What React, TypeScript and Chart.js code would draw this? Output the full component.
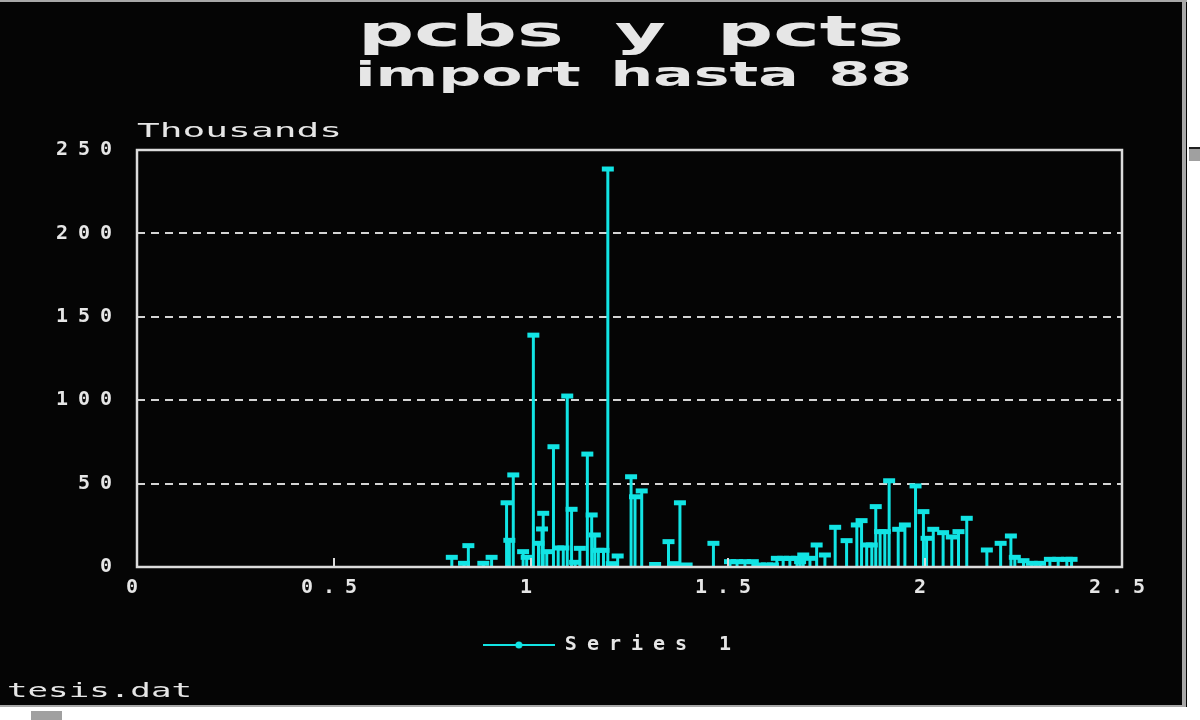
import React, { useEffect, useRef } from 'react';
import { Chart, registerables } from 'chart.js';

Chart.register(...registerables);

// ---- text ----
const chartTitle = 'pcbs y pcts';
const chartSubtitle = 'import hasta 88';
const unitLabel = 'Thousands';
const fileLabel = 'tesis.dat';
const seriesName = 'Series 1';

// ---- axes ----
const xTickValues = [0, 0.5, 1, 1.5, 2, 2.5];
const yTickValues = [0, 50, 100, 150, 200, 250];

// ---- data (values in thousands) ----
const sampleX = [
  0.799, 0.83, 0.841, 0.879, 0.9, 0.938, 0.945, 0.955, 0.98, 0.989,
  1.006, 1.019, 1.028, 1.031, 1.04, 1.057, 1.069, 1.082, 1.092, 1.103,
  1.112, 1.124, 1.143, 1.154, 1.162, 1.171, 1.184, 1.195, 1.205, 1.22,
  1.254, 1.264, 1.281, 1.315, 1.349, 1.361, 1.378, 1.395, 1.463, 1.505,
  1.523, 1.543, 1.563, 1.581, 1.599, 1.614, 1.624, 1.64, 1.657, 1.675,
  1.683, 1.691, 1.708, 1.725, 1.746, 1.772, 1.801, 1.827, 1.839, 1.852,
  1.865, 1.875, 1.886, 1.898, 1.909, 1.932, 1.949, 1.976, 1.996, 2.004,
  2.021, 2.046, 2.068, 2.085, 2.106, 2.157, 2.192, 2.218, 2.228, 2.25,
  2.271, 2.292, 2.317, 2.338, 2.36, 2.372,
];
const sampleValues = [
  5.8, 2.2, 12.8, 2.2, 5.8, 38.5, 16, 55.2, 9.2, 5.8,
  139, 14.2, 22.8, 32.2, 9.2, 72.1, 11.4, 11.4, 102.5, 34.6,
  2.8, 11.2, 67.7, 31.2, 19.2, 10, 10, 238.6, 2, 6.6,
  54.1, 42.1, 45.6, 1.5, 15.2, 2, 38.5, 1.2, 14.2, 3.2,
  3.2, 3.2, 3.2, 1.2, 1.2, 1.2, 5.2, 5.2, 5.2, 5.2,
  3.2, 7.2, 5.2, 13.2, 7.2, 23.8, 15.8, 25.2, 27.8, 13.2,
  13.2, 36.2, 21.2, 21.2, 51.7, 22.6, 25.2, 48.6, 33.2, 17.2,
  22.6, 20.6, 18, 21.2, 29.2, 10.2, 14.2, 18.6, 5.8, 3.8,
  2.2, 2.2, 4.6, 4.6, 4.6, 4.6,
];

const CYAN = '#12e4e4';
const FG = '#e6e6e6';
const MONO = '"DejaVu Sans Mono", monospace';
const SPACING = '10px';

function makeLegendMark(): HTMLCanvasElement {
  const c = document.createElement('canvas');
  c.width = 72;
  c.height = 10;
  const g = c.getContext('2d')!;
  g.strokeStyle = CYAN;
  g.lineWidth = 2;
  g.beginPath();
  g.moveTo(0, 5);
  g.lineTo(72, 5);
  g.stroke();
  g.fillStyle = CYAN;
  g.beginPath();
  g.arc(36, 5, 3.5, 0, Math.PI * 2);
  g.fill();
  return c;
}

function drawScaledText(
  ctx: CanvasRenderingContext2D,
  text: string,
  font: string,
  left: number,
  right: number,
  baseline: number,
  wordSpacing: string,
) {
  ctx.save();
  (ctx as any).letterSpacing = '0px';
  (ctx as any).wordSpacing = wordSpacing;
  ctx.font = font;
  ctx.fillStyle = FG;
  ctx.textAlign = 'left';
  ctx.textBaseline = 'alphabetic';
  const w = ctx.measureText(text).width;
  ctx.translate(left, baseline);
  ctx.scale((right - left) / w, 1);
  ctx.fillText(text, 0, 0);
  ctx.restore();
}

const retroPlugin = {
  id: 'retro',
  beforeUpdate(chart: any) {
    chart.ctx.letterSpacing = SPACING;
  },
  beforeDraw(chart: any) {
    const ctx = chart.ctx as CanvasRenderingContext2D;
    ctx.save();
    ctx.fillStyle = '#ffffff';
    ctx.fillRect(0, 0, 1200, 720);
    ctx.fillStyle = '#050505';
    ctx.fillRect(0, 0, 1187, 707);
    ctx.fillStyle = '#a8a8a8';
    ctx.fillRect(0, 0, 1187, 2);
    ctx.fillRect(1182, 0, 4, 706);
    ctx.fillRect(0, 705, 1186, 2);
    ctx.fillStyle = '#a0a0a0';
    ctx.fillRect(31, 711, 31, 9);
    ctx.fillRect(1189, 149, 11, 12);
    ctx.fillStyle = '#202020';
    ctx.fillRect(1189, 147, 11, 2);
    ctx.restore();
    (ctx as any).letterSpacing = SPACING;
  },
  afterDatasetsDraw(chart: any) {
    const ctx = chart.ctx as CanvasRenderingContext2D;
    const a = chart.chartArea;
    const xs = chart.scales.x;
    ctx.save();
    ctx.strokeStyle = '#dcdcdc';
    ctx.lineWidth = 2.5;
    ctx.setLineDash([]);
    ctx.strokeRect(a.left, a.top, a.right - a.left, a.bottom - a.top);
    ctx.lineWidth = 2;
    xTickValues.forEach((v) => {
      const px = xs.getPixelForValue(v);
      ctx.beginPath();
      ctx.moveTo(px, a.bottom);
      ctx.lineTo(px, a.bottom - 9);
      ctx.stroke();
    });
    ctx.restore();
  },
  afterDraw(chart: any) {
    const ctx = chart.ctx as CanvasRenderingContext2D;
    drawScaledText(ctx, chartTitle, 'bold 43px "DejaVu Sans"', 358, 904, 46, '13px');
    drawScaledText(ctx, chartSubtitle, 'bold 34px "DejaVu Sans"', 355, 912, 86, '5px');
    drawScaledText(ctx, unitLabel, `20px ${MONO}`, 137, 342, 137, '0px');
    drawScaledText(ctx, fileLabel, `20px ${MONO}`, 7, 192, 697, '0px');
  },
};

export default function App() {
  const canvasRef = useRef<HTMLCanvasElement | null>(null);

  useEffect(() => {
    const canvas = canvasRef.current;
    if (!canvas) return;
    const legendMark = makeLegendMark();

    const stemPoints: any[] = [];
    sampleX.forEach((x, i) => {
      stemPoints.push({ x, y: 0 });
      stemPoints.push({ x, y: sampleValues[i], cap: true });
      stemPoints.push({ x, y: null });
    });

    const tickFont = { family: MONO, size: 20, weight: 'bold' as const };

    const chart = new Chart(canvas, {
      type: 'scatter',
      data: {
        datasets: [
          {
            label: seriesName,
            data: stemPoints,
            showLine: true,
            spanGaps: false,
            borderColor: CYAN,
            backgroundColor: CYAN,
            borderWidth: 3,
            pointStyle: 'line',
            pointBorderColor: CYAN,
            pointBorderWidth: 5,
            pointRadius: (c: any) => (c.raw && c.raw.cap ? 6 : 0),
            pointHoverRadius: (c: any) => (c.raw && c.raw.cap ? 6 : 0),
          } as any,
        ],
      },
      options: {
        responsive: false,
        animation: false,
        events: [],
        layout: { padding: { top: 150, left: 24, right: 0, bottom: 55 } },
        plugins: {
          title: { display: false },
          tooltip: { enabled: false },
          legend: {
            display: true,
            position: 'bottom',
            labels: {
              usePointStyle: true,
              pointStyleWidth: 72,
              padding: 10,
              color: FG,
              font: tickFont,
              generateLabels: () => [
                {
                  text: seriesName,
                  pointStyle: legendMark as any,
                  fillStyle: CYAN,
                  strokeStyle: CYAN,
                  lineWidth: 0,
                  fontColor: FG,
                  hidden: false,
                  datasetIndex: 0,
                } as any,
              ],
            },
          },
        },
        scales: {
          x: {
            type: 'linear',
            min: 0,
            max: 2.5,
            afterBuildTicks: (s: any) => {
              s.ticks = xTickValues.map((v) => ({ value: v }));
            },
            afterFit: (s: any) => {
              s.height = 58;
            },
            grid: { display: false, drawTicks: false },
            border: { display: false },
            ticks: {
              autoSkip: false,
              maxRotation: 0,
              padding: 9,
              color: FG,
              font: tickFont,
              callback: (v: any) => String(v),
            },
          },
          y: {
            type: 'linear',
            position: 'left',
            min: 0,
            max: 250,
            afterBuildTicks: (s: any) => {
              s.ticks = yTickValues.map((v) => ({ value: v }));
            },
            afterFit: (s: any) => {
              s.width = 113;
            },
            grid: { color: '#d4d4d4', lineWidth: 2, drawTicks: false },
            border: { display: false, dash: [8, 6] },
            ticks: {
              padding: 15,
              color: FG,
              font: tickFont,
              callback: (v: any) => String(v),
            },
          },
          y2: {
            type: 'linear',
            position: 'right',
            min: 0,
            max: 250,
            display: true,
            afterFit: (s: any) => {
              s.width = 78;
            },
            grid: { display: false, drawTicks: false },
            border: { display: false },
            ticks: { display: false },
          },
        },
      },
      plugins: [retroPlugin as any],
    });

    return () => {
      chart.destroy();
    };
  }, []);

  return (
    <div style={{ position: 'fixed', left: 0, top: 0, width: 1200, height: 720 }}>
      <canvas ref={canvasRef} width={1200} height={720} style={{ display: 'block' }} />
    </div>
  );
}
